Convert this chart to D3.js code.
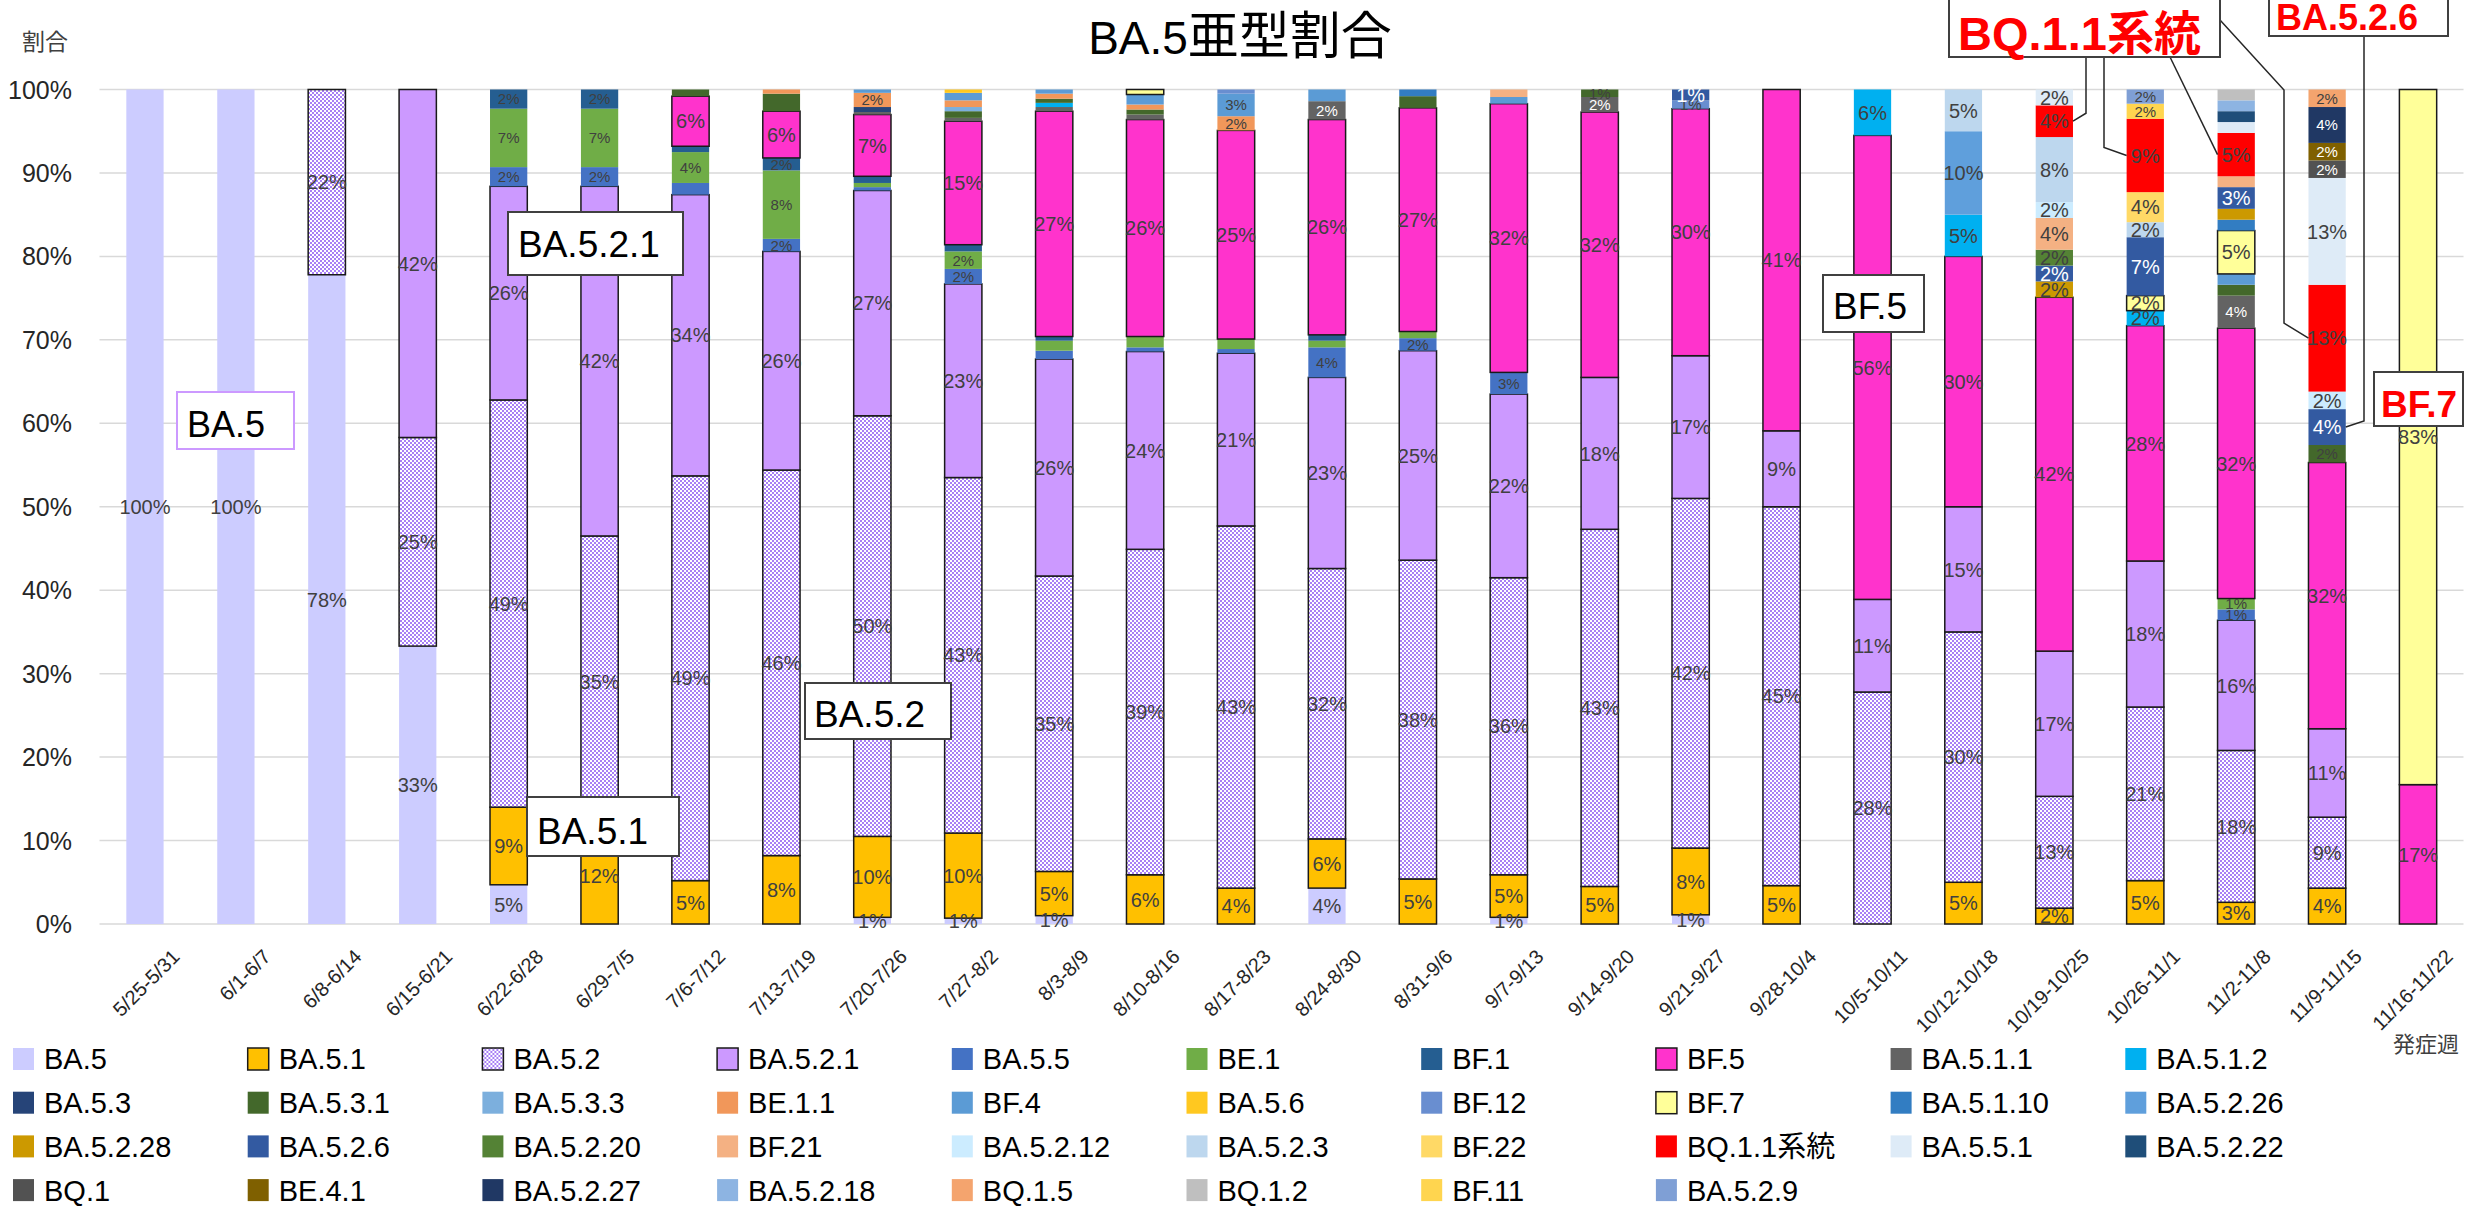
<!DOCTYPE html>
<html>
<head>
<meta charset="utf-8">
<script src="https://cdn.jsdelivr.net/npm/d3@7"></script>
<style>
html, body { margin: 0; padding: 0; background: #ffffff; }
svg { display: block; }
text { font-family: "Liberation Sans", "Noto Sans CJK JP", sans-serif; }
</style>
</head>
<body>
<svg id="chart" width="2483" height="1211"></svg>
<script>
// Weekly categories (onset week)
const weeks = ["5/25-5/31","6/1-6/7","6/8-6/14","6/15-6/21","6/22-6/28","6/29-7/5","7/6-7/12",
  "7/13-7/19","7/20-7/26","7/27-8/2","8/3-8/9","8/10-8/16","8/17-8/23","8/24-8/30","8/31-9/6",
  "9/7-9/13","9/14-9/20","9/21-9/27","9/28-10/4","10/5-10/11","10/12-10/18","10/19-10/25",
  "10/26-11/1","11/2-11/8","11/9-11/15","11/16-11/22"];

// Sub-lineages in stacking order (bottom to top) and legend order
const variants = ["BA.5","BA.5.1","BA.5.2","BA.5.2.1","BA.5.5","BE.1","BF.1","BF.5","BA.5.1.1","BA.5.1.2",
  "BA.5.3","BA.5.3.1","BA.5.3.3","BE.1.1","BF.4","BA.5.6","BF.12","BF.7","BA.5.1.10","BA.5.2.26",
  "BA.5.2.28","BA.5.2.6","BA.5.2.20","BF.21","BA.5.2.12","BA.5.2.3","BF.22","BQ.1.1系統","BA.5.5.1","BA.5.2.22",
  "BQ.1","BE.4.1","BA.5.2.27","BA.5.2.18","BQ.1.5","BQ.1.2","BF.11","BA.5.2.9"];

const variantColors = ["#ccccff","#ffc000","url(#dots)","#cc99ff","#4472c4","#70ad47","#255e91","#ff33cc","#636363","#00b0f0",
  "#264478","#43682b","#7cafdd","#f1975a","#5b9bd5","#ffc820","#698ed0","#ffff99","#327dc2","#5f9fdc",
  "#cc9900","#335aa1","#548235","#f4b183","#ccecff","#bdd7ee","#ffd966","#ff0000","#deebf7","#1f4e79",
  "#525252","#7f6000","#203864","#8db4e2","#f4a46e","#bfbfbf","#ffd54f","#7f9fd5"];

// Weekly share of each sub-lineage (%), one value per week
const BA_5      = [100,100,77.8,33.3,4.7,0,0,0,0.8,0.7,1.0,0,0,4.3,0,0.8,0,1.1,0,0,0,0,0,0,0,0];
const BA_5_1    = [0,0,0,0,9.3,11.6,5.2,8.2,9.7,10.2,5.3,5.9,4.3,5.9,5.4,5.1,4.5,8.0,4.6,0,5.0,1.9,5.2,2.6,4.3,0];
const BA_5_2    = [0,0,22.2,25.0,48.8,34.9,48.5,46.2,50.4,42.6,35.4,39.0,43.4,32.4,38.2,35.6,42.8,41.9,45.4,27.8,30.0,13.4,20.8,18.2,8.5,0];
const BA_5_2_1  = [0,0,0,41.7,25.6,41.9,33.7,26.2,27.0,23.2,26.0,23.7,20.7,22.9,25.1,22.0,18.2,17.1,9.1,11.1,15.0,17.4,17.5,15.6,10.6,0];
const BA_5_5    = [0,0,0,0,2.3,2.3,1.4,1.5,0.4,1.8,1.0,0.5,0.5,3.6,1.5,2.6,0,0,0,0,0,0,0,1.3,0,0];
const BE_1      = [0,0,0,0,7.0,7.0,3.7,8.2,0.5,2.1,1.2,1.3,1.2,0.8,0.8,0,0,0,0,0,0,0,0,1.3,0,0];
const BF_1      = [0,0,0,0,2.3,2.3,0.7,1.5,0.8,0.8,0.5,0,0,0.7,0,0,0,0,0,0,0,0,0,0,0,0];
const BF_5      = [0,0,0,0,0,0,6.0,5.6,7.4,14.8,27.0,26.0,25.0,25.8,26.8,32.2,31.8,29.6,40.9,55.6,30.0,42.4,28.2,32.4,31.9,16.7];
const BA_5_1_1  = [0,0,0,0,0,0,0,0,0.3,0.4,0.5,0.6,0,2.2,0,0,1.8,0,0,0,0,0,0,3.9,0,0];
const BA_5_1_2  = [0,0,0,0,0,0,0,0,0,0,0.5,0,0,0,0,0,0,0,0,5.5,5.0,0,1.8,0,0,0];
const BA_5_3    = [0,0,0,0,0,0,0,0,0.6,0,0,0,0,0,0,0,0,0,0,0,0,0,0,0,0,0];
const BA_5_3_1  = [0,0,0,0,0,0,0.8,2.1,0,0.8,0.5,0.6,0,0,1.4,0,0.9,0,0,0,0,0,0,1.3,2.1,0];
const BA_5_3_3  = [0,0,0,0,0,0,0,0,0,0.5,0,0,0,0,0,0,0,0,0,0,0,0,0,0,0,0];
const BE_1_1    = [0,0,0,0,0,0,0,0.5,1.7,0.8,0.6,0.6,1.7,0,0,0,0,0,0,0,0,0,0,0,0,0];
const BF_4      = [0,0,0,0,0,0,0,0,0.4,0.9,0.5,1.2,2.7,1.4,0,0.8,0,0,0,0,0,0,0,1.3,0,0];
const BA_5_6    = [0,0,0,0,0,0,0,0,0,0.4,0,0,0,0,0,0,0,0,0,0,0,0,0,0,0,0];
const BF_12     = [0,0,0,0,0,0,0,0,0,0,0,0,0.5,0,0,0,0,1.0,0,0,0,0,0,0,0,0];
const BF_7      = [0,0,0,0,0,0,0,0,0,0,0,0.6,0,0,0,0,0,0,0,0,0,0,1.8,5.2,0,83.3];
const BA_5_1_10 = [0,0,0,0,0,0,0,0,0,0,0,0,0,0,0.8,0,0,0,0,0,0,0,0,1.3,0,0];
const BA_5_2_26 = [0,0,0,0,0,0,0,0,0,0,0,0,0,0,0,0,0,0,0,0,10.0,0,0,0,0,0];
const BA_5_2_28 = [0,0,0,0,0,0,0,0,0,0,0,0,0,0,0,0,0,0,0,0,0,1.9,0,1.3,0,0];
const BA_5_2_6  = [0,0,0,0,0,0,0,0,0,0,0,0,0,0,0,0,0,1.3,0,0,0,1.9,7.0,2.6,4.3,0];
const BA_5_2_20 = [0,0,0,0,0,0,0,0,0,0,0,0,0,0,0,0,0,0,0,0,0,1.9,0,0,0,0];
const BF_21     = [0,0,0,0,0,0,0,0,0,0,0,0,0,0,0,0.9,0,0,0,0,0,3.8,0,1.3,0,0];
const BA_5_2_12 = [0,0,0,0,0,0,0,0,0,0,0,0,0,0,0,0,0,0,0,0,0,1.9,0,0,2.1,0];
const BA_5_2_3  = [0,0,0,0,0,0,0,0,0,0,0,0,0,0,0,0,0,0,0,0,5.0,7.8,1.8,0,0,0];
const BF_22     = [0,0,0,0,0,0,0,0,0,0,0,0,0,0,0,0,0,0,0,0,0,0,3.6,0,0,0];
const BQ_1_1    = [0,0,0,0,0,0,0,0,0,0,0,0,0,0,0,0,0,0,0,0,0,3.8,8.8,5.2,12.8,0];
const BA_5_5_1  = [0,0,0,0,0,0,0,0,0,0,0,0,0,0,0,0,0,0,0,0,0,1.9,0,1.3,12.8,0];
const BA_5_2_22 = [0,0,0,0,0,0,0,0,0,0,0,0,0,0,0,0,0,0,0,0,0,0,0,1.3,0,0];
const BQ_1      = [0,0,0,0,0,0,0,0,0,0,0,0,0,0,0,0,0,0,0,0,0,0,0,0,2.1,0];
const BE_4_1    = [0,0,0,0,0,0,0,0,0,0,0,0,0,0,0,0,0,0,0,0,0,0,0,0,2.1,0];
const BA_5_2_27 = [0,0,0,0,0,0,0,0,0,0,0,0,0,0,0,0,0,0,0,0,0,0,0,0,4.3,0];
const BA_5_2_18 = [0,0,0,0,0,0,0,0,0,0,0,0,0,0,0,0,0,0,0,0,0,0,0,1.3,0,0];
const BQ_1_5    = [0,0,0,0,0,0,0,0,0,0,0,0,0,0,0,0,0,0,0,0,0,0,0,0,2.1,0];
const BQ_1_2    = [0,0,0,0,0,0,0,0,0,0,0,0,0,0,0,0,0,0,0,0,0,0,0,1.3,0,0];
const BF_11     = [0,0,0,0,0,0,0,0,0,0,0,0,0,0,0,0,0,0,0,0,0,0,1.8,0,0,0];
const BA_5_2_9  = [0,0,0,0,0,0,0,0,0,0,0,0,0,0,0,0,0,0,0,0,0,0,1.7,0,0,0];

const shares = [BA_5,BA_5_1,BA_5_2,BA_5_2_1,BA_5_5,BE_1,BF_1,BF_5,BA_5_1_1,BA_5_1_2,
  BA_5_3,BA_5_3_1,BA_5_3_3,BE_1_1,BF_4,BA_5_6,BF_12,BF_7,BA_5_1_10,BA_5_2_26,
  BA_5_2_28,BA_5_2_6,BA_5_2_20,BF_21,BA_5_2_12,BA_5_2_3,BF_22,BQ_1_1,BA_5_5_1,BA_5_2_22,
  BQ_1,BE_4_1,BA_5_2_27,BA_5_2_18,BQ_1_5,BQ_1_2,BF_11,BA_5_2_9];

const yTicks = [0,10,20,30,40,50,60,70,80,90,100];

// Data labels: shown from 1.5% upward, with these per-cell exceptions
const labelHidden = [[7,"BA.5.3.1"]];
const labelForced = [[8,"BA.5"],[9,"BA.5"],[10,"BA.5"],[15,"BA.5"],[17,"BA.5"],[16,"BA.5.3.1"],
  [17,"BF.12"],[17,"BA.5.2.6"],[23,"BE.1"],[23,"BA.5.5"]];

shares.forEach((arr, i) => {
  if (arr.length !== weeks.length) throw new Error(variants[i] + " has " + arr.length + " values");
});

// ---- styling ----
const outlined = new Set(["BA.5.1","BA.5.2","BA.5.2.1","BF.5","BF.7"]);
const bigLabel = new Set(["BA.5","BA.5.1","BA.5.2","BA.5.2.1","BF.5","BA.5.1.2","BF.7","BA.5.2.26","BA.5.2.28",
  "BA.5.2.6","BA.5.2.20","BF.21","BA.5.2.12","BA.5.2.3","BF.22","BQ.1.1系統","BA.5.5.1"]);
const whiteLabel = new Set(["BA.5.1.1","BA.5.2.6","BQ.1","BE.4.1","BA.5.2.27","BA.5.2.22","BA.5.3"]);

const svg = d3.select("#chart");
const plot = { left: 99.5, right: 2463.5, top: 89.5, bottom: 924 };

const defs = svg.append("defs");
const pat = defs.append("pattern").attr("id", "dots")
  .attr("width", 4).attr("height", 4).attr("patternUnits", "userSpaceOnUse");
pat.append("rect").attr("width", 4).attr("height", 4).attr("fill", "#ffffff");
pat.append("rect").attr("x", 0).attr("y", 0).attr("width", 2).attr("height", 2).attr("fill", "#a880f5");
pat.append("rect").attr("x", 2).attr("y", 2).attr("width", 2).attr("height", 2).attr("fill", "#a880f5");

const x = d3.scaleBand().domain(weeks).range([plot.left, plot.right])
  .paddingInner(0.59).paddingOuter(0.295);
const y = d3.scaleLinear().domain([0, 100]).range([plot.bottom, plot.top]);
const color = d3.scaleOrdinal().domain(variants).range(variantColors);

// gridlines + y tick labels
svg.append("g").selectAll("line").data(yTicks).join("line")
  .attr("x1", plot.left).attr("x2", plot.right)
  .attr("y1", d => y(d)).attr("y2", d => y(d))
  .attr("stroke", "#d9d9d9").attr("stroke-width", 1.5);
svg.append("g").selectAll("text").data(yTicks).join("text")
  .attr("x", 72).attr("y", d => y(d)).attr("dy", "0.36em")
  .attr("text-anchor", "end").attr("font-size", 25).attr("fill", "#262626")
  .text(d => d + "%");

// stacked bars
const rows = weeks.map((w, i) => {
  const r = { week: w };
  variants.forEach((v, k) => { r[v] = shares[k][i]; });
  return r;
});
const stacked = d3.stack().keys(variants)(rows);

const layers = svg.append("g").selectAll("g").data(stacked).join("g")
  .attr("fill", d => color(d.key))
  .attr("stroke", d => outlined.has(d.key) ? "#1a1a1a" : "none")
  .attr("stroke-width", 1.5);
layers.selectAll("rect").data(d => d.filter(s => s[1] - s[0] > 0)).join("rect")
  .attr("x", s => x(s.data.week))
  .attr("width", x.bandwidth())
  .attr("y", s => y(s[1]))
  .attr("height", s => y(s[0]) - y(s[1]));

// data labels
const hiddenKey = new Set(labelHidden.map(d => d[0] + "|" + d[1]));
const forcedKey = new Set(labelForced.map(d => d[0] + "|" + d[1]));
const labels = [];
stacked.forEach(layer => {
  layer.forEach((s, i) => {
    const v = s[1] - s[0];
    if (v <= 0) return;
    const key = i + "|" + layer.key;
    if ((v >= 1.5 && !hiddenKey.has(key)) || forcedKey.has(key)) {
      labels.push({ series: layer.key, week: weeks[i], value: shares[layer.index][i], mid: (s[0] + s[1]) / 2 });
    }
  });
});
svg.append("g").selectAll("text").data(labels).join("text")
  .attr("x", d => x(d.week) + x.bandwidth() / 2)
  .attr("y", d => y(d.mid))
  .attr("dy", "0.36em")
  .attr("text-anchor", "middle")
  .attr("font-size", d => bigLabel.has(d.series) ? 20 : 15)
  .attr("fill", d => whiteLabel.has(d.series) ? "#ffffff" : "#404040")
  .text(d => Math.round(d.value) + "%");

// x axis labels
svg.append("g").selectAll("text").data(weeks).join("text")
  .attr("transform", d => `translate(${x(d) + x.bandwidth() / 2 + 36},958) rotate(-45)`)
  .attr("text-anchor", "end").attr("font-size", 20).attr("fill", "#262626")
  .text(d => d);

// titles
const title = svg.append("text").attr("x", 1240).attr("y", 54).attr("text-anchor", "middle").attr("fill", "#000");
title.append("tspan").attr("font-size", 46).text("BA.5");
title.append("tspan").attr("font-size", 51).attr("font-family", "Noto Sans CJK JP").text("亜型割合");
svg.append("text").attr("x", 22).attr("y", 50).attr("font-size", 23).attr("fill", "#404040")
  .attr("font-family", "Noto Sans CJK JP").text("割合");
svg.append("text").attr("x", 2393).attr("y", 1052).attr("font-size", 22).attr("fill", "#404040")
  .attr("font-family", "Noto Sans CJK JP").text("発症週");

// leader lines from callouts to segments
const segMid = (name, i) => {
  const s = stacked[variants.indexOf(name)][i];
  return y((s[0] + s[1]) / 2);
};
const barLeft = i => x(weeks[i]);
const barRight = i => x(weeks[i]) + x.bandwidth();
const bq = "BQ.1.1系統";
const leaders = [
  [[2086, 57], [2086, segMid(bq, 21) - 8], [barRight(21), segMid(bq, 21)]],
  [[2104, 57], [2104, segMid(bq, 22) - 8], [barLeft(22), segMid(bq, 22)]],
  [[2170, 57], [barLeft(23), segMid(bq, 23)]],
  [[2220, 20], [2284, 90], [2284, segMid(bq, 24) - 15], [barLeft(24), segMid(bq, 24)]],
  [[2364, 36], [2364, segMid("BA.5.2.6", 24) - 6], [barRight(24), segMid("BA.5.2.6", 24)]]
];
svg.append("g").selectAll("path").data(leaders).join("path")
  .attr("d", d => d3.line()(d))
  .attr("fill", "none").attr("stroke", "#262626").attr("stroke-width", 1.5);

// callout boxes
const callouts = [
  { text: "BA.5", x: 177, y: 392, w: 117, h: 57, tx: 187, ty: 437, size: 36, stroke: "#cc99ff", fill: "#000", bold: false },
  { text: "BA.5.2.1", x: 508, y: 212, w: 175, h: 63, tx: 518, ty: 257, size: 37, stroke: "#404040", fill: "#000", bold: false },
  { text: "BA.5.1", x: 527, y: 797, w: 152, h: 59, tx: 537, ty: 844, size: 37, stroke: "#404040", fill: "#000", bold: false },
  { text: "BA.5.2", x: 805, y: 683, w: 146, h: 56, tx: 814, ty: 727, size: 37, stroke: "#404040", fill: "#000", bold: false },
  { text: "BF.5", x: 1823, y: 275, w: 101, h: 57, tx: 1833, ty: 319, size: 37, stroke: "#404040", fill: "#000", bold: false },
  { text: "BQ.1.1系統", x: 1949, y: -2, w: 271, h: 59, tx: 1958, ty: 50, size: 47, stroke: "#404040", fill: "#ff0000", bold: true },
  { text: "BA.5.2.6", x: 2269, y: -2, w: 179, h: 38, tx: 2276, ty: 30, size: 36, stroke: "#404040", fill: "#ff0000", bold: true },
  { text: "BF.7", x: 2374, y: 372, w: 89, h: 54, tx: 2381, ty: 417, size: 37, stroke: "#404040", fill: "#ff0000", bold: true }
];
const cg = svg.append("g").selectAll("g").data(callouts).join("g");
cg.append("rect").attr("x", d => d.x).attr("y", d => d.y).attr("width", d => d.w).attr("height", d => d.h)
  .attr("fill", "#ffffff").attr("stroke", d => d.stroke).attr("stroke-width", 2);
cg.append("text").attr("x", d => d.tx).attr("y", d => d.ty)
  .attr("font-size", d => d.size).attr("font-weight", d => d.bold ? "bold" : "normal")
  .attr("fill", d => d.fill).text(d => d.text);

// legend: 10 columns x 4 rows
const legend = svg.append("g").selectAll("g").data(variants).join("g")
  .attr("transform", (d, i) => `translate(${13 + (i % 10) * 234.7},${1059 + Math.floor(i / 10) * 43.7})`);
legend.append("rect").attr("x", 0).attr("y", -11).attr("width", 21).attr("height", 22)
  .attr("fill", d => color(d))
  .attr("stroke", d => outlined.has(d) ? "#1a1a1a" : "none").attr("stroke-width", 1.5);
legend.append("text").attr("x", 31).attr("y", 0).attr("dy", "0.36em")
  .attr("font-size", 29).attr("fill", "#000").text(d => d);
</script>
</body>
</html>
